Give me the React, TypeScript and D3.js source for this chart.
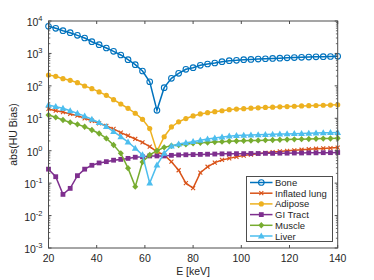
import React, { useRef, useEffect } from 'react';
import * as d3 from 'd3';

const energies = [20, 23, 26, 29, 32, 35, 38, 41, 44, 47, 50, 53, 56, 59, 62, 65, 68, 71, 74, 77, 80,
  83, 86, 89, 92, 95, 98, 101, 104, 107, 110, 113, 116, 119, 122, 125, 128, 131, 134, 137, 140];

const bone = [6870, 5960, 5030, 4360, 3610, 2990, 2300, 1860, 1470, 1160, 895, 641, 450, 287, 134, 17.6,
  88, 171, 244, 324, 363, 430, 472, 507, 556, 597, 614, 640, 655, 670, 685, 700, 715, 730, 745, 760,
  770, 785, 795, 805, 815];
const lung = [19.4, 17.2, 15.6, 13.6, 12.0, 10.0, 8.4, 7.0, 5.8, 4.7, 3.6, 2.9, 2.3, 1.8, 1.33, 0.93,
  0.74, 0.46, 0.25, 0.1, 0.07, 0.21, 0.32, 0.43, 0.52, 0.58, 0.65, 0.71, 0.76, 0.81, 0.86, 0.91, 0.95,
  0.99, 1.03, 1.07, 1.11, 1.15, 1.18, 1.21, 1.25];
const adipose = [216, 197, 166, 148, 125, 99, 82, 65, 51, 37.5, 27.6, 20.3, 14.3, 9.3, 4.8, 0.95, 2.7,
  5.4, 7.8, 9.8, 11.8, 13.6, 14.9, 16, 17.1, 18.4, 19.3, 19.8, 20.5, 21.0, 21.6, 22.0, 22.5, 23.0, 23.5,
  24.0, 24.4, 24.8, 25.2, 25.6, 26.0];
const giTract = [0.27, 0.158, 0.045, 0.069, 0.17, 0.27, 0.355, 0.42, 0.46, 0.51, 0.54, 0.58, 0.63, 0.65,
  0.69, 0.69, 0.69, 0.72, 0.74, 0.75, 0.76, 0.77, 0.78, 0.79, 0.8, 0.8, 0.81, 0.81, 0.82, 0.82, 0.83,
  0.83, 0.84, 0.84, 0.85, 0.85, 0.86, 0.86, 0.87, 0.87, 0.88];
const muscle = [12.6, 10.7, 8.9, 7.5, 6.5, 5.5, 4.35, 3.4, 2.4, 1.5, 0.83, 0.29, 0.078, 0.45, 0.74, 1.0,
  1.27, 1.43, 1.5, 1.58, 1.7, 1.75, 1.8, 1.85, 1.9, 1.95, 2.0, 2.02, 2.05, 2.08, 2.12, 2.15, 2.18, 2.21,
  2.24, 2.27, 2.3, 2.33, 2.36, 2.39, 2.42];
const liver = [25.7, 22.8, 20.3, 17.1, 14.2, 11.7, 9.3, 7.3, 5.5, 3.9, 2.7, 1.85, 1.19, 0.74, 0.1, 0.36,
  0.83, 1.4, 1.6, 1.75, 1.9, 2.1, 2.3, 2.45, 2.65, 2.8, 2.95, 3.0, 3.05, 3.1, 3.15, 3.2, 3.25, 3.3, 3.35,
  3.4, 3.45, 3.5, 3.55, 3.6, 3.65];

const seriesNames = ['Bone', 'Inflated lung', 'Adipose', 'GI Tract', 'Muscle', 'Liver'];
const seriesColors = ['#0072BD', '#D95319', '#EDB120', '#7E2F8E', '#77AC30', '#4DBEEE'];
const seriesMarkers = ['circleOpen', 'cross', 'dot', 'square', 'diamond', 'triangle'];
const seriesValues = [bone, lung, adipose, giTract, muscle, liver];

const xTicks = [20, 40, 60, 80, 100, 120, 140];
const yExponents = [-3, -2, -1, 0, 1, 2, 3, 4];

function drawMarker(g, type, x, y, color) {
  if (type === 'circleOpen') {
    g.append('circle').attr('cx', x).attr('cy', y).attr('r', 2.8)
      .attr('fill', 'none').attr('stroke', color).attr('stroke-width', 1.1);
  } else if (type === 'cross') {
    g.append('path').attr('d', `M${x - 2},${y - 2}L${x + 2},${y + 2}M${x - 2},${y + 2}L${x + 2},${y - 2}`)
      .attr('stroke', color).attr('stroke-width', 1.1);
  } else if (type === 'dot') {
    g.append('circle').attr('cx', x).attr('cy', y).attr('r', 2.6).attr('fill', color);
  } else if (type === 'square') {
    g.append('rect').attr('x', x - 2.4).attr('y', y - 2.4).attr('width', 4.8).attr('height', 4.8)
      .attr('fill', color);
  } else if (type === 'diamond') {
    g.append('path').attr('d', `M${x},${y - 3.2}L${x + 3},${y}L${x},${y + 3.2}L${x - 3},${y}Z`)
      .attr('fill', color);
  } else if (type === 'triangle') {
    g.append('path').attr('d', `M${x},${y - 3.6}L${x + 3.4},${y + 2.4}L${x - 3.4},${y + 2.4}Z`)
      .attr('fill', color);
  }
}

export default function App() {
  const svgRef = useRef(null);

  useEffect(() => {
    const width = 374;
    const height = 280;
    const margin = { top: 21, right: 36.3, bottom: 32, left: 48.5 };
    const innerWidth = width - margin.left - margin.right;
    const innerHeight = height - margin.top - margin.bottom;

    const svg = d3.select(svgRef.current);
    svg.selectAll('*').remove();

    const g = svg.append('g').attr('transform', `translate(${margin.left},${margin.top})`);

    const xScale = d3.scaleLinear().domain([20, 140]).range([0, innerWidth]);
    const yScale = d3.scaleLog().domain([1e-3, 1e4]).range([innerHeight, 0]);

    const axisColor = '#4d4d4d';
    const font = 'Liberation Sans, Arial, Helvetica, sans-serif';

    // Series lines and markers
    seriesValues.forEach((values, si) => {
      const color = seriesColors[si];
      const line = d3.line()
        .x((d, i) => xScale(energies[i]))
        .y(d => yScale(d));
      g.append('path')
        .datum(values)
        .attr('fill', 'none')
        .attr('stroke', color)
        .attr('stroke-width', 1.5)
        .attr('d', line);
      values.forEach((v, i) => {
        drawMarker(g, seriesMarkers[si], xScale(energies[i]), yScale(v), color);
      });
    });

    // Frame
    g.append('rect')
      .attr('x', 0).attr('y', 0)
      .attr('width', innerWidth).attr('height', innerHeight)
      .attr('fill', 'none').attr('stroke', axisColor).attr('stroke-width', 1);

    // X ticks
    xTicks.forEach((t) => {
      const x = xScale(t);
      g.append('line').attr('x1', x).attr('x2', x).attr('y1', innerHeight).attr('y2', innerHeight - 3)
        .attr('stroke', axisColor);
      g.append('line').attr('x1', x).attr('x2', x).attr('y1', 0).attr('y2', 3)
        .attr('stroke', axisColor);
      g.append('text')
        .attr('x', x).attr('y', innerHeight + 14)
        .attr('text-anchor', 'middle')
        .attr('font-family', font).attr('font-size', '10.5px').attr('fill', '#262626')
        .text(t);
    });

    // Y ticks (major + minor)
    yExponents.forEach((e) => {
      const y = yScale(Math.pow(10, e));
      [[0, 3], [innerWidth, innerWidth - 3]].forEach(([a, b]) => {
        g.append('line').attr('x1', a).attr('x2', b).attr('y1', y).attr('y2', y).attr('stroke', axisColor);
      });
      if (e < 4) {
        for (let m = 2; m <= 9; m++) {
          const ym = yScale(m * Math.pow(10, e));
          [[0, 1.8], [innerWidth, innerWidth - 1.8]].forEach(([a, b]) => {
            g.append('line').attr('x1', a).attr('x2', b).attr('y1', ym).attr('y2', ym)
              .attr('stroke', axisColor).attr('stroke-width', 0.8);
          });
        }
      }
      const label = g.append('text')
        .attr('x', -6).attr('y', y + 5)
        .attr('text-anchor', 'end')
        .attr('font-family', font).attr('font-size', '10.5px').attr('fill', '#262626');
      label.append('tspan').text('10');
      label.append('tspan').attr('dy', -5).attr('font-size', '7.5px').text(e);
    });

    // Axis labels
    svg.append('text')
      .attr('x', margin.left + innerWidth / 2).attr('y', 275)
      .attr('text-anchor', 'middle')
      .attr('font-family', font).attr('font-size', '10.5px').attr('fill', '#262626')
      .text('E [keV]');
    svg.append('text')
      .attr('transform', `translate(17,${margin.top + innerHeight / 2}) rotate(-90)`)
      .attr('text-anchor', 'middle')
      .attr('font-family', font).attr('font-size', '10.5px').attr('fill', '#262626')
      .text('abs(HU Bias)');

    // Legend
    const lg = svg.append('g').attr('transform', 'translate(246.5,176.5)');
    lg.append('rect').attr('x', 0).attr('y', 0).attr('width', 86).attr('height', 65)
      .attr('fill', '#fff').attr('stroke', axisColor).attr('stroke-width', 1);
    seriesNames.forEach((name, i) => {
      const ly = 6 + i * 10.7;
      lg.append('line').attr('x1', 3.5).attr('x2', 26).attr('y1', ly).attr('y2', ly)
        .attr('stroke', seriesColors[i]).attr('stroke-width', 1.5);
      drawMarker(lg, seriesMarkers[i], 14.8, ly, seriesColors[i]);
      lg.append('text')
        .attr('x', 28.5).attr('y', ly)
        .attr('dominant-baseline', 'central')
        .attr('font-family', font).attr('font-size', '9.5px').attr('fill', '#262626')
        .text(name);
    });
  }, []);

  return (
    <svg ref={svgRef} width={374} height={280}
      style={{ position: 'absolute', left: 0, top: 0, display: 'block' }} />
  );
}
